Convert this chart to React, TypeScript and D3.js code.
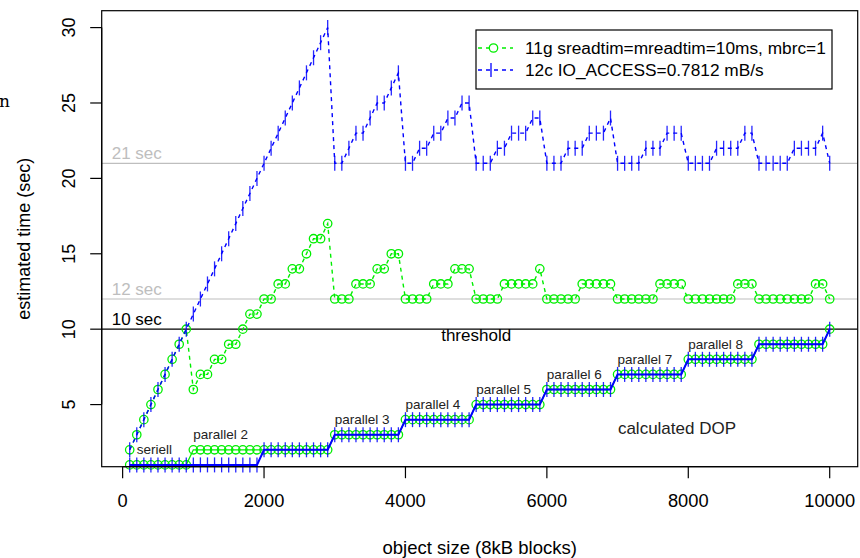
import React from 'react';
import * as d3 from 'd3';

// object size (8kB blocks)
const blocks = [
  100, 200, 300, 400, 500, 600, 700, 800, 900,
  1000, 1100, 1200, 1300, 1400, 1500, 1600, 1700, 1800, 1900,
  2000, 2100, 2200, 2300, 2400, 2500, 2600, 2700, 2800, 2900,
  3000, 3100, 3200, 3300, 3400, 3500, 3600, 3700, 3800, 3900,
  4000, 4100, 4200, 4300, 4400, 4500, 4600, 4700, 4800, 4900,
  5000, 5100, 5200, 5300, 5400, 5500, 5600, 5700, 5800, 5900,
  6000, 6100, 6200, 6300, 6400, 6500, 6600, 6700, 6800, 6900,
  7000, 7100, 7200, 7300, 7400, 7500, 7600, 7700, 7800, 7900,
  8000, 8100, 8200, 8300, 8400, 8500, 8600, 8700, 8800, 8900,
  9000, 9100, 9200, 9300, 9400, 9500, 9600, 9700, 9800, 9900,
  10000,
];

// 11g sreadtim=mreadtim=10ms, mbrc=1 : estimated time (sec)
const time11g = [
  2, 3, 4, 5, 6, 7, 8, 9, 10,
  6, 7, 7, 8, 8, 9, 9, 10, 11, 11,
  12, 12, 13, 13, 14, 14, 15, 16, 16, 17,
  12, 12, 12, 13, 13, 13, 14, 14, 15, 15,
  12, 12, 12, 12, 13, 13, 13, 14, 14, 14,
  12, 12, 12, 12, 13, 13, 13, 13, 13, 14,
  12, 12, 12, 12, 12, 13, 13, 13, 13, 13,
  12, 12, 12, 12, 12, 12, 13, 13, 13, 13,
  12, 12, 12, 12, 12, 12, 12, 13, 13, 13,
  12, 12, 12, 12, 12, 12, 12, 12, 13, 13,
  12,
];

// 12c IO_ACCESS=0.7812 mB/s : estimated time (sec)
const time12c = [
  2, 3, 4, 5, 6, 7, 8, 9, 10,
  11, 12, 13, 14, 15, 16, 17, 18, 19, 20,
  21, 22, 23, 24, 25, 26, 27, 28, 29, 30,
  21, 21, 22, 23, 23, 24, 25, 25, 26, 27,
  21, 21, 22, 22, 23, 23, 24, 24, 25, 25,
  21, 21, 21, 22, 22, 23, 23, 23, 24, 24,
  21, 21, 21, 22, 22, 22, 23, 23, 23, 24,
  21, 21, 21, 21, 22, 22, 22, 23, 23, 23,
  21, 21, 21, 21, 22, 22, 22, 22, 23, 23,
  21, 21, 21, 21, 21, 22, 22, 22, 22, 23,
  21,
];

// calculated DOP
const dop11g = [
  1, 1, 1, 1, 1, 1, 1, 1, 1,
  2, 2, 2, 2, 2, 2, 2, 2, 2, 2,
  2, 2, 2, 2, 2, 2, 2, 2, 2, 2,
  3, 3, 3, 3, 3, 3, 3, 3, 3, 3,
  4, 4, 4, 4, 4, 4, 4, 4, 4, 4,
  5, 5, 5, 5, 5, 5, 5, 5, 5, 5,
  6, 6, 6, 6, 6, 6, 6, 6, 6, 6,
  7, 7, 7, 7, 7, 7, 7, 7, 7, 7,
  8, 8, 8, 8, 8, 8, 8, 8, 8, 8,
  9, 9, 9, 9, 9, 9, 9, 9, 9, 9,
  10,
];
const dop12c = [
  1, 1, 1, 1, 1, 1, 1, 1, 1,
  1, 1, 1, 1, 1, 1, 1, 1, 1, 1,
  2, 2, 2, 2, 2, 2, 2, 2, 2, 2,
  3, 3, 3, 3, 3, 3, 3, 3, 3, 3,
  4, 4, 4, 4, 4, 4, 4, 4, 4, 4,
  5, 5, 5, 5, 5, 5, 5, 5, 5, 5,
  6, 6, 6, 6, 6, 6, 6, 6, 6, 6,
  7, 7, 7, 7, 7, 7, 7, 7, 7, 7,
  8, 8, 8, 8, 8, 8, 8, 8, 8, 8,
  9, 9, 9, 9, 9, 9, 9, 9, 9, 9,
  10,
];

const xTicks = [0, 2000, 4000, 6000, 8000, 10000];
const yTicks = [5, 10, 15, 20, 25, 30];

const refValues = [21, 12, 10];
const refLabels = ['21 sec', '12 sec', '10 sec'];

const dopLabels = ['seriell', 'parallel 2', 'parallel 3', 'parallel 4', 'parallel 5', 'parallel 6', 'parallel 7', 'parallel 8'];
const dopLabelX = [200, 1000, 3000, 4000, 5000, 6000, 7000, 8000];
const dopLabelY = [2, 3, 4, 5, 6, 7, 8, 9];

const legendLabels = ['11g sreadtim=mreadtim=10ms, mbrc=1', '12c IO_ACCESS=0.7812 mB/s'];

const W = 860;
const H = 558;
const BOX = { left: 101.7, right: 857.7, top: 10.7, bottom: 466.7 };
const FONT = "'Liberation Sans', Arial, Helvetica, sans-serif";
const GREEN = '#00ee00';
const BLUE = '#0000ff';
const GRAY = '#bebebe';

function padDomain(vals: number[]): [number, number] {
  const [a, b] = d3.extent(vals) as [number, number];
  const p = (b - a) * 0.04;
  return [a - p, b + p];
}

export default function App() {
  const x = d3.scaleLinear().domain(padDomain(blocks)).range([BOX.left, BOX.right]);
  const y = d3.scaleLinear().domain(padDomain(time12c)).range([BOX.bottom, BOX.top]);

  const pts = (vals: number[]) => blocks.map((b, i) => [b, vals[i]] as [number, number]);
  const line = d3.line<[number, number]>().x((d) => x(d[0])).y((d) => y(d[1]));

  const circles = (vals: number[], key: string) =>
    pts(vals).map((d, i) => (
      <circle key={key + i} cx={x(d[0])} cy={y(d[1])} r={4.2} fill="none" stroke={GREEN} strokeWidth={1.3} />
    ));
  const bars = (vals: number[], key: string) =>
    pts(vals).map((d, i) => (
      <line key={key + i} x1={x(d[0])} x2={x(d[0])} y1={y(d[1]) - 7.5} y2={y(d[1]) + 7.5} stroke={BLUE} strokeWidth={1.3} strokeOpacity={0.85} />
    ));

  const midX = (BOX.left + BOX.right) / 2;
  const midY = (BOX.top + BOX.bottom) / 2;

  return (
    <svg width={W} height={H} style={{ position: 'absolute', left: 0, top: 0, background: '#fff' }} fontFamily={FONT}>
      <rect x={0} y={0} width={W} height={H} fill="#fff" />
      <text x={-1} y={107} fontFamily="'DejaVu Serif', 'Liberation Serif', serif" fontSize={17} fill="#000">n</text>

      <defs>
        <clipPath id="plotClip">
          <rect x={BOX.left} y={BOX.top} width={BOX.right - BOX.left} height={BOX.bottom - BOX.top} />
        </clipPath>
      </defs>

      {/* reference lines */}
      <g clipPath="url(#plotClip)">
        {refValues.map((v, i) => (
          <line key={'ref' + i} x1={BOX.left} x2={BOX.right} y1={y(v)} y2={y(v)} stroke={v === 10 ? '#000' : GRAY} strokeWidth={1.2} />
        ))}
      </g>
      {refValues.map((v, i) => (
        <text key={'refl' + i} x={x(200)} y={y(v + 0.62)} textAnchor="middle" dominantBaseline="central" fontSize={17} fill={v === 10 ? '#000' : GRAY}>
          {refLabels[i]}
        </text>
      ))}
      <text x={x(5000)} y={y(9.6)} textAnchor="middle" dominantBaseline="central" fontSize={17} fill="#000">threshold</text>

      {/* upper series */}
      <path d={line(pts(time11g)) || ''} fill="none" stroke={GREEN} strokeWidth={1.4} strokeDasharray="4 4" />
      {circles(time11g, 'g')}
      <path d={line(pts(time12c)) || ''} fill="none" stroke={BLUE} strokeWidth={1.4} strokeDasharray="4 4" />
      {bars(time12c, 'b')}

      {/* DOP series */}
      <path d={line(pts(dop11g)) || ''} fill="none" stroke={GREEN} strokeWidth={1.3} />
      {circles(dop11g, 'gd')}
      <path d={line(pts(dop12c)) || ''} fill="none" stroke={BLUE} strokeWidth={2} />
      {bars(dop12c, 'bd')}

      {dopLabels.map((t, i) => (
        <text key={'dl' + i} x={x(dopLabelX[i])} y={y(dopLabelY[i])} dominantBaseline="central" fontSize={13.5} fill="#222">
          {t}
        </text>
      ))}
      <text x={x(7840)} y={y(3.43)} textAnchor="middle" dominantBaseline="central" fontSize={17} fill="#222">calculated DOP</text>

      {/* box */}
      <rect x={BOX.left} y={BOX.top} width={BOX.right - BOX.left} height={BOX.bottom - BOX.top} fill="none" stroke="#000" strokeWidth={1.2} />

      {/* x axis */}
      <line x1={x(xTicks[0])} x2={x(xTicks[xTicks.length - 1])} y1={BOX.bottom} y2={BOX.bottom} stroke="#000" strokeWidth={1.2} />
      {xTicks.map((t) => (
        <g key={'xt' + t}>
          <line x1={x(t)} x2={x(t)} y1={BOX.bottom} y2={BOX.bottom + 11.5} stroke="#000" strokeWidth={1.2} />
          <text x={x(t)} y={500} textAnchor="middle" dominantBaseline="central" fontSize={18.3} fill="#000">{t}</text>
        </g>
      ))}
      <text x={midX} y={547} textAnchor="middle" dominantBaseline="central" fontSize={18.5} fill="#000">object size (8kB blocks)</text>

      {/* y axis */}
      <line x1={BOX.left} x2={BOX.left} y1={y(yTicks[0])} y2={y(yTicks[yTicks.length - 1])} stroke="#000" strokeWidth={1.2} />
      {yTicks.map((t) => (
        <g key={'yt' + t}>
          <line x1={BOX.left - 11.5} x2={BOX.left} y1={y(t)} y2={y(t)} stroke="#000" strokeWidth={1.2} />
          <text transform={`translate(69,${y(t)}) rotate(-90)`} textAnchor="middle" dominantBaseline="central" fontSize={18} fill="#000">{t}</text>
        </g>
      ))}
      <text transform={`translate(24,${midY}) rotate(-90)`} textAnchor="middle" dominantBaseline="central" fontSize={18} fill="#000">estimated time (sec)</text>

      {/* legend */}
      <rect x={476} y={30} width={356} height={59} fill="#fff" stroke="#000" strokeWidth={1.2} />
      <line x1={478} x2={513} y1={48} y2={48} stroke={GREEN} strokeWidth={1.4} strokeDasharray="4 4" />
      <circle cx={493.5} cy={48} r={4.2} fill="#fff" stroke={GREEN} strokeWidth={1.3} />
      <line x1={478} x2={513} y1={70} y2={70} stroke={BLUE} strokeWidth={1.4} strokeDasharray="4 4" />
      <line x1={491} x2={491} y1={63} y2={77} stroke={BLUE} strokeWidth={1.3} />
      {legendLabels.map((t, i) => (
        <text key={'lg' + i} x={525} y={48 + i * 22} dominantBaseline="central" fontSize={17.3} fill="#000">{t}</text>
      ))}
    </svg>
  );
}
